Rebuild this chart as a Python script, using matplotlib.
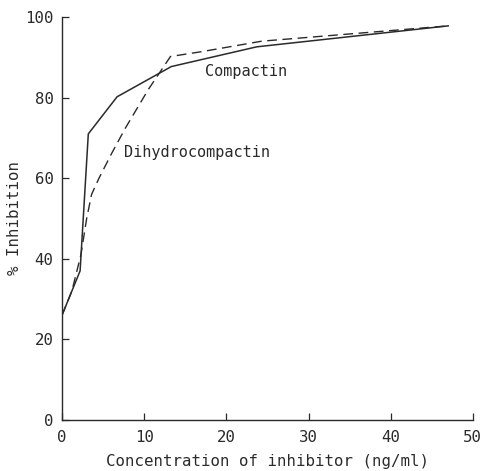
import numpy as np
import matplotlib.pyplot as plt

# values
compactin_x = [0, 1.0, 2.2, 3.2, 6.7, 13.3, 23.7, 47]
compactin_y = [26, 31, 37, 71, 80.2, 87.7, 92.6, 97.8]

dihydro_x = [0, 1.2, 2.3, 3.0, 3.6, 4.5, 6.0, 7.7, 10.5, 13.2, 17, 24.3, 47]
dihydro_y = [26, 32, 41, 50, 56, 60, 66, 72.4, 82, 90.2, 91.4, 94, 97.8]

xticks = [0, 10, 20, 30, 40, 50]
yticks = [0, 20, 40, 60, 80, 100]

plt.rcParams["font.family"] = ["DejaVu Sans Mono"]
ink = "#2a2a2a"

fig = plt.figure(figsize=(4.83, 4.71), dpi=100)
ax = fig.add_axes([0.1284, 0.1083, 0.8506, 0.8556])

ax.plot(compactin_x, compactin_y, color=ink, lw=1.1)
ax.plot(dihydro_x, dihydro_y, color=ink, lw=1.0, dashes=(7, 4))

# curve labels
ax.annotate("Compactin", xy=(17.4, 86.6), fontsize=11, color=ink,
            ha="left", va="center")
ax.annotate("Dihydrocompactin", xy=(7.5, 66.3), fontsize=11, color=ink,
            ha="left", va="center")

ax.set_xlim(0, 50)
ax.set_ylim(0, 100)
ax.set_xticks(xticks)
ax.set_yticks(yticks)
ax.tick_params(direction="in", length=5, width=0.9, colors=ink,
               labelsize=11.3, pad=6)
ax.tick_params(axis="x", pad=7)
for side in ("top", "right"):
  ax.spines[side].set_visible(False)
for side in ("left", "bottom"):
  ax.spines[side].set_color(ink)
  ax.spines[side].set_linewidth(1.0)

ax.set_xlabel("Concentration of inhibitor (ng/ml)", fontsize=11.3,
              color=ink, labelpad=7)
ax.set_ylabel("% Inhibition", fontsize=11.3, color=ink, labelpad=2)

fig.savefig("out.png", dpi=100)
